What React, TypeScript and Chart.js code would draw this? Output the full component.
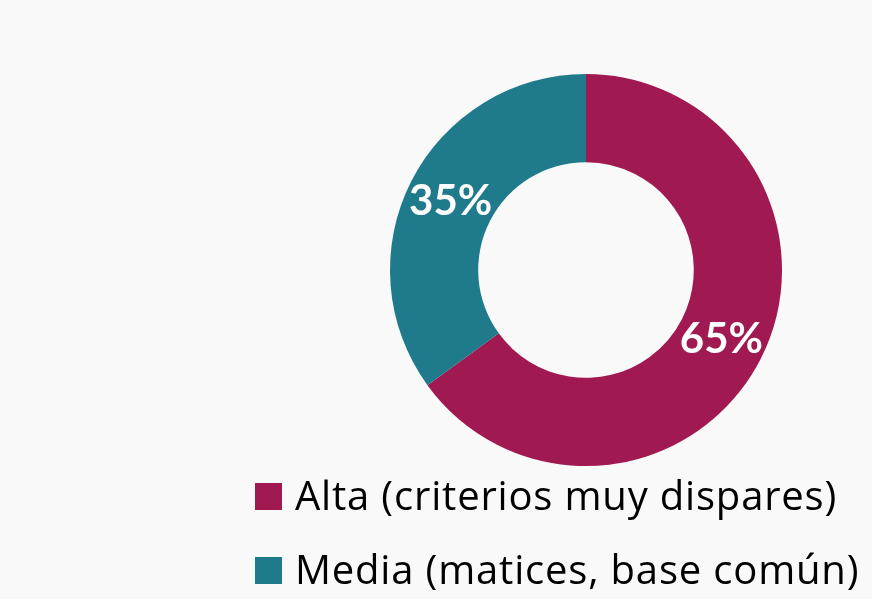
import React, { useEffect, useRef } from "react";
import { Chart, registerables } from "chart.js";

Chart.register(...registerables);

const categories = ["Alta (criterios muy dispares)", "Media (matices, base común)"];
const values = [65, 35];
const valueLabels = ["65%", "35%"];
const colors = ["#A01950", "#1F7A8C"];

const LABEL_FONT = "Lato, 'Open Sans', sans-serif";
const LEGEND_FONT = "'Open Sans', Lato, sans-serif";

const labelPlugin = {
  id: "sliceLabels",
  afterDatasetsDraw(chart: any) {
    const ctx = chart.ctx;
    const meta = chart.getDatasetMeta(0);
    ctx.save();
    ctx.fillStyle = "#ffffff";
    ctx.font = `bold 42px ${LABEL_FONT}`;
    ctx.textAlign = "center";
    ctx.textBaseline = "middle";
    meta.data.forEach((arc: any, i: number) => {
      const p = arc.tooltipPosition(false);
      ctx.fillText(valueLabels[i], p.x, p.y);
    });
    ctx.restore();
  },
};

const legendPlugin = {
  id: "leftLegend",
  afterDraw(chart: any) {
    const ctx = chart.ctx;
    const x0 = 255;
    const y0 = 483;
    const gap = 74;
    const box = 27;
    ctx.save();
    ctx.font = `40px ${LEGEND_FONT}`;
    ctx.textBaseline = "alphabetic";
    ctx.textAlign = "left";
    const first = chart.data.labels[0] as string;
    const w = ctx.measureText(first).width;
    const extra = Math.max(0, (542 - w) / first.length);
    (ctx as any).letterSpacing = `${extra.toFixed(2)}px`;
    chart.data.labels.forEach((lab: string, i: number) => {
      const y = y0 + i * gap;
      ctx.fillStyle = colors[i];
      ctx.fillRect(x0, y, box, box);
      ctx.fillStyle = "#000000";
      ctx.fillText(lab, 295, y + 27);
    });
    ctx.restore();
  },
};

export default function App() {
  const ref = useRef<HTMLCanvasElement | null>(null);
  useEffect(() => {
    document.body.style.margin = "0";
    document.body.style.background = "#F9F9F9";
    const chart = new Chart(ref.current as HTMLCanvasElement, {
      type: "doughnut",
      data: {
        labels: categories,
        datasets: [
          {
            data: values,
            backgroundColor: colors,
            borderWidth: 0,
          },
        ],
      },
      options: {
        responsive: false,
        animation: false,
        cutout: "55%",
        layout: { padding: { left: 390, right: 90, top: 74, bottom: 133 } },
        plugins: {
          legend: { display: false },
          tooltip: { enabled: false },
        },
      },
      plugins: [labelPlugin, legendPlugin],
    });
    return () => chart.destroy();
  }, []);
  return (
    <div style={{ width: 872, height: 599, background: "#F9F9F9", position: "relative" }}>
      <canvas ref={ref} width={872} height={599} style={{ display: "block" }} />
    </div>
  );
}
